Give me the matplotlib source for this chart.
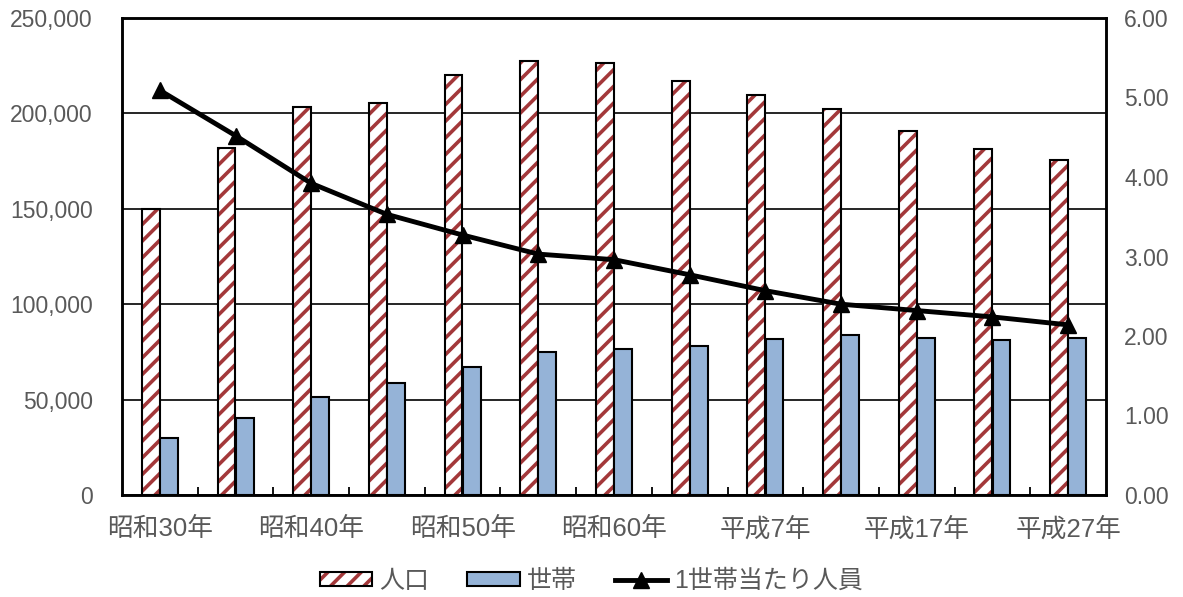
import numpy as np
import matplotlib
matplotlib.use("Agg")
import matplotlib.pyplot as plt
from matplotlib.patches import Patch
from matplotlib.lines import Line2D
from matplotlib.legend_handler import HandlerTuple
from matplotlib.ticker import FuncFormatter

plt.rcParams['font.family'] = ['Liberation Sans', 'Noto Sans CJK JP', 'DejaVu Sans']
plt.rcParams['hatch.linewidth'] = 2.6

# data
years = ['昭和30年', '昭和35年', '昭和40年', '昭和45年', '昭和50年', '昭和55年', '昭和60年',
         '平成2年', '平成7年', '平成12年', '平成17年', '平成22年', '平成27年']
population = [150000, 182000, 203400, 205300, 219900, 227600, 226400,
              217000, 209600, 202100, 190800, 181200, 175500]
households = [29800, 40300, 51500, 58600, 67200, 75000, 76500,
              78200, 81800, 84100, 82200, 81000, 82200]
per_household = [5.09, 4.52, 3.92, 3.53, 3.27, 3.03, 2.96,
                 2.77, 2.57, 2.40, 2.32, 2.24, 2.14]

red = '#A3383A'
blue = '#95B3D7'
grey = '#595959'

fig = plt.figure(figsize=(11.83, 5.97), dpi=100)
ax = fig.add_axes([122/1183, 1 - 495/597, (1106 - 122)/1183, (495 - 18)/597])
ax2 = ax.twinx()

x = np.arange(len(years))
w = 0.235
# population: hatched fill, then black outline on top
ax.bar(x - 0.12, population, w, color='white', edgecolor=red, hatch='//', linewidth=0, zorder=2)
ax.bar(x - 0.12, population, w, fill=False, edgecolor='black', linewidth=1.5, zorder=3)
ax.bar(x + 0.12, households, w, color=blue, edgecolor='black', linewidth=1.5, zorder=3)

ax.set_xlim(-0.5, len(years) - 0.5)
ax.set_ylim(0, 250000)
ax.set_yticks(np.arange(0, 250001, 50000))
ax.yaxis.set_major_formatter(FuncFormatter(lambda v, p: f'{int(v):,}'))
ax.grid(axis='y', color='black', linewidth=1.2, zorder=0)
ax.set_axisbelow(True)

ax.set_xticks(x[::2])
ax.set_xticklabels(years[::2])
ax.set_xticks(np.arange(0.5, len(years) - 1, 1), minor=True)
ax.tick_params(axis='x', which='major', length=0, pad=16, labelsize=18.5, labelcolor=grey)
ax.tick_params(axis='x', which='minor', direction='in', length=6, width=1.3, color='black')
ax.tick_params(axis='y', length=0, pad=21, labelsize=16.5, labelcolor=grey)

ax2.plot(x, per_household, color='black', linewidth=3.5, marker='^', markersize=12, zorder=5)
ax2.set_ylim(0, 6)
ax2.set_yticks(np.arange(0, 6.01, 1))
ax2.yaxis.set_major_formatter(FuncFormatter(lambda v, p: f'{v:.2f}'))
ax2.tick_params(axis='y', length=0, pad=13, labelsize=16.5, labelcolor=grey)

for a in (ax, ax2):
    for s in a.spines.values():
        s.set_linewidth(1.8)
        s.set_color('black')

pop_handle = (Patch(facecolor='white', edgecolor=red, hatch='//', linewidth=0),
              Patch(fill=False, edgecolor='black', linewidth=1.5))
hh_handle = Patch(facecolor=blue, edgecolor='black', linewidth=1.5)
line_handle = Line2D([0], [0], color='black', linewidth=3.5, marker='^', markersize=12)

leg = fig.legend([pop_handle, hh_handle, line_handle], ['人口', '世帯', '1世帯当たり人員'],
                 handler_map={tuple: HandlerTuple(ndivide=1, pad=0)},
                 loc='center', bbox_to_anchor=(0.5, 1 - 581/597), ncol=3, frameon=False,
                 fontsize=18, handlelength=2.1, handleheight=0.5, handletextpad=0.3,
                 columnspacing=1.5)
for t in leg.get_texts():
    t.set_color(grey)

fig.savefig('out.png', dpi=100)
